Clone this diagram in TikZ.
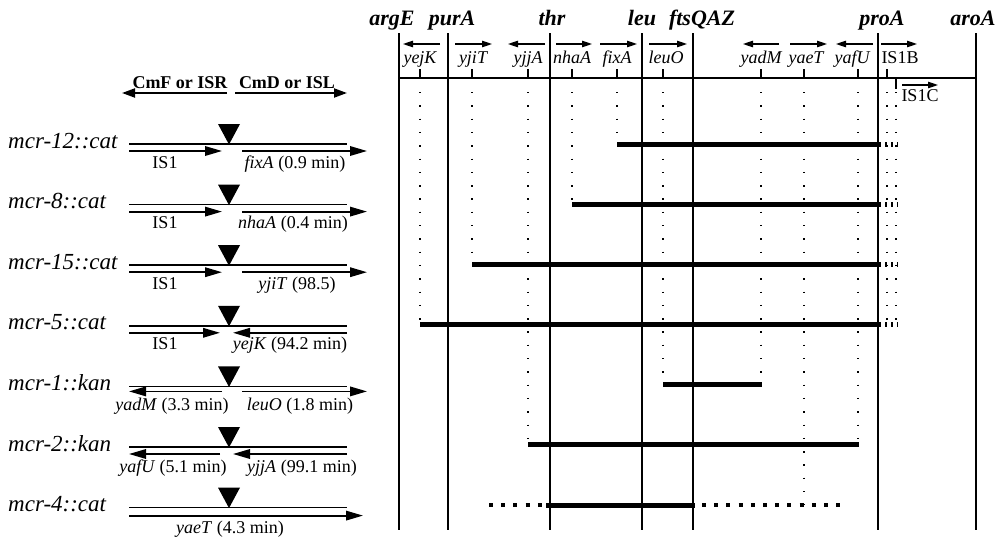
\documentclass[tikz,border=0pt]{standalone}
\usepackage{fontspec}
\setmainfont{Liberation Serif}
\usetikzlibrary{arrows.meta}
\tikzset{
  locusline/.style={line width=1.2pt},
  maplinestyle/.style={line width=1.2pt},
  locuslabel/.style={font=\fontsize{22}{22}\selectfont\bfseries\itshape, anchor=base, inner sep=0pt},
  genelabel/.style={font=\fontsize{18}{18}\selectfont\itshape, anchor=base, inner sep=0pt},
  islabel/.style={font=\fontsize{18}{18}\selectfont, anchor=base, inner sep=0pt},
  genearrow/.style={line width=1.1pt, -{Triangle[length=10pt,width=6.5pt]}},
  genetick/.style={line width=1.2pt},
  dotline/.style={line width=1.4pt, dash pattern=on 1.4pt off 11.9pt},
  bar/.style={line width=5pt},
  barext/.style={line width=5pt, dash pattern=on 2pt off 4pt},
  bardash/.style={line width=4.5pt, dash pattern=on 4pt off 8.2pt},
  rowlabel/.style={font=\fontsize{23}{23}\selectfont\itshape, anchor=base west, inner sep=0pt},
  ctline/.style={line width=1.7pt},
  ctarrow/.style={line width=1.8pt, -{Triangle[length=17pt,width=9.5pt]}},
  hdrarrow/.style={line width=1.9pt, -{Triangle[length=13pt,width=9pt]}},
  hdrlabel/.style={font=\fontsize{18}{18}\selectfont\bfseries, anchor=base, inner sep=0pt},
  sublabel/.style={font=\fontsize{18}{18}\selectfont, anchor=base, inner sep=0pt},
  insertmark/.style={fill=black},
}
\begin{document}
\begin{tikzpicture}[x=1pt,y=-1pt]
\useasboundingbox (0,0) rectangle (999,538);

% ---------- locus lines and labels ----------
\foreach \x/\nm/\lx in {399/argE/392, 448/purA/452, 550/thr/552, 642/leu/642, 878/proA/882, 976/aroA/973}{
  \draw[locusline] (\x,33) -- (\x,530);
  \node[locuslabel] (L\nm) at (\lx,25) {\nm};
}
\draw[locusline] (693,33) -- (693,530);
\node[locuslabel] (LftsQAZ) at (702,25) {ftsQAZ};

% ---------- map line ----------
\coordinate (mapL) at (399,78);
\coordinate (mapR) at (976,78);
\draw[maplinestyle] (mapL) -- (mapR);

% ---------- genes on map ----------
\foreach \nm/\tx/\ax/\bx/\lx in {yejK/420/440/403/420, yjiT/472/455/492/473, yjjA/528/545/508/528,
  nhaA/572/556/592/572, fixA/617/600/637/617, leuO/663/649/687/666,
  yadM/761/779/743/761, yaeT/804/790/827/806, yafU/858/873/836/852}{
  \draw[genearrow] (\ax,44) -- (\bx,44);
  \node[genelabel] (g\nm) at (\lx,63) {\nm};
  \draw[genetick] (\tx,69) -- (\tx,79);
}
\draw[genearrow] (881,44) -- (917,44);
\node[islabel] (gIS1B) at (900,63) {IS1B};
\draw[genetick] (887,69) -- (887,79);
\draw[genearrow] (902,85) -- (938,85);
\node[islabel] (gIS1C) at (920,101) {IS1C};
\draw[genetick] (896,78) -- (896,89);

% ---------- dotted guide lines ----------
\foreach \x/\yend in {420/324, 472/264, 528/444, 572/204, 617/144, 663/384, 761/384, 804/505, 858/444, 887/324, 896/324}{
  \draw[dotline] (\x,92) -- (\x,\yend);
}

% ---------- deletion bars ----------
\draw[bar] (617,144) -- (879,144);  \draw[barext] (879,144) -- (898,144);
\draw[bar] (572,204) -- (879,204);  \draw[barext] (879,204) -- (898,204);
\draw[bar] (472,264) -- (879,264);  \draw[barext] (879,264) -- (898,264);
\draw[bar] (420,324) -- (879,324);  \draw[barext] (879,324) -- (898,324);
\draw[bar] (663,384) -- (762,384);
\draw[bar] (528,444) -- (859,444);
\draw[bardash] (489,505) -- (546,505);
\draw[bar] (546,505) -- (695,505);
\draw[bardash] (702,505) -- (842,505);

% ---------- left header ----------
\draw[hdrarrow] (227,93) -- (122,93);
\draw[hdrarrow] (235,93) -- (347,93);
\node[hdrlabel] (hL) at (180,88) {CmF or ISR};
\node[hdrlabel] (hR) at (287,88) {CmD or ISL};

% ---------- constructs ----------
\foreach \i/\lab in {0/mcr-12::cat, 1/mcr-8::cat, 2/mcr-15::cat, 3/mcr-5::cat, 4/mcr-1::kan, 5/mcr-2::kan, 6/mcr-4::cat}{
  \pgfmathsetmacro\yy{144+60.6*\i}
  \node[rowlabel] (r\i) at (8,\yy+4) {\lab};
  \draw[ctline] (129,\yy) -- (347,\yy);
  \fill[insertmark] (218,\yy-20) -- (240,\yy-20) -- (229,\yy+0.5) -- cycle;
}
% row 0
\draw[ctarrow] (129,151) -- (222,151);
\draw[ctarrow] (242,151) -- (367,151);
\node[sublabel] at (165,168) {IS1};
\node[sublabel] at (295,168) {\textit{fixA} (0.9 min)};
% row 1
\draw[ctarrow] (129,211.6) -- (222,211.6);
\draw[ctarrow] (242,211.6) -- (367,211.6);
\node[sublabel] at (165,228.6) {IS1};
\node[sublabel] at (293,228.6) {\textit{nhaA} (0.4 min)};
% row 2
\draw[ctarrow] (129,272.2) -- (222,272.2);
\draw[ctarrow] (242,272.2) -- (367,272.2);
\node[sublabel] at (165,289.2) {IS1};
\node[sublabel] at (297,289.2) {\textit{yjiT} (98.5)};
% row 3
\draw[ctarrow] (129,332.8) -- (220,332.8);
\draw[ctarrow] (347,332.8) -- (233,332.8);
\node[sublabel] at (165,349.8) {IS1};
\node[sublabel] at (290,349.8) {\textit{yejK} (94.2 min)};
% row 4
\draw[ctarrow] (222,391.4) -- (129,391.4);
\draw[ctarrow] (242,391.4) -- (367,391.4);
\node[sublabel] at (172,410.5) {\textit{yadM} (3.3 min)};
\node[sublabel] at (300,410.5) {\textit{leuO} (1.8 min)};
% row 5
\draw[ctarrow] (220,454) -- (129,454);
\draw[ctarrow] (347,454) -- (233,454);
\node[sublabel] at (173,472.5) {\textit{yafU} (5.1 min)};
\node[sublabel] at (302,472.5) {\textit{yjjA} (99.1 min)};
% row 6
\draw[ctarrow] (129,515.6) -- (363,515.6);
\node[sublabel] at (230,533) {\textit{yaeT} (4.3 min)};
\end{tikzpicture}
\end{document}
